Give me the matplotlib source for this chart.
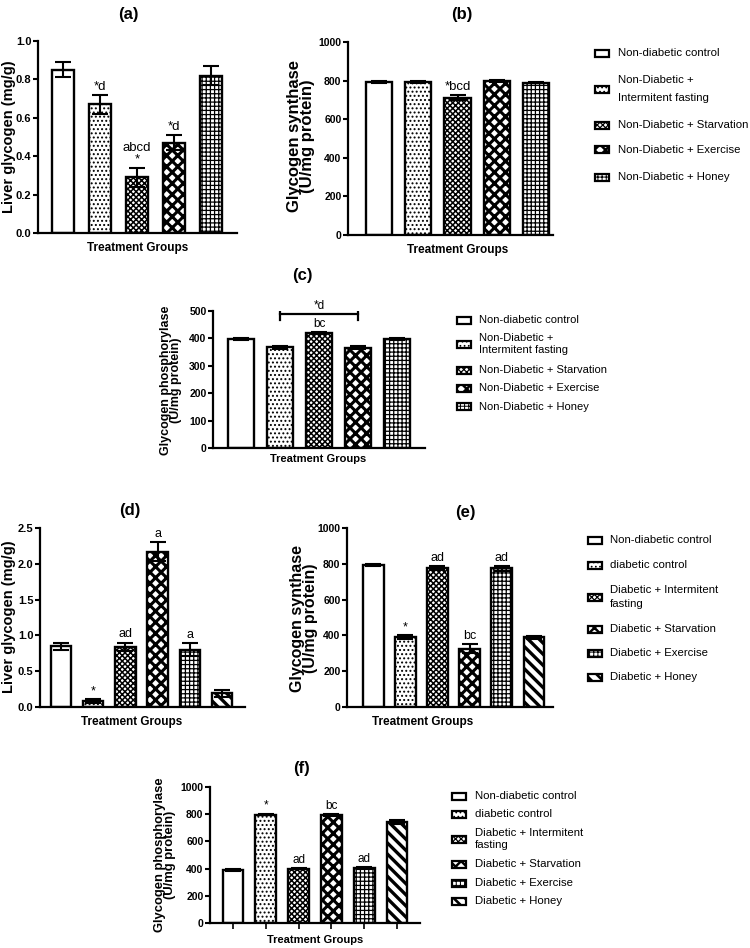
import matplotlib
matplotlib.use('Agg')
import matplotlib.pyplot as plt
from matplotlib.patches import Rectangle
import numpy as np

W, H = 750, 948
fig = plt.figure(figsize=(7.5, 9.48), dpi=100)
plt.rcParams['hatch.linewidth'] = 1.0

FAM = ['Liberation Sans', 'DejaVu Sans']

# ---------------- data ----------------
groups_nd = ["Non-diabetic control", "Non-Diabetic +\nIntermitent fasting",
             "Non-Diabetic + Starvation", "Non-Diabetic + Exercise",
             "Non-Diabetic + Honey"]
groups_d = ["Non-diabetic control", "diabetic control",
            "Diabetic + Intermitent\nfasting", "Diabetic + Starvation",
            "Diabetic + Exercise", "Diabetic + Honey"]

a_mean = [0.85, 0.67, 0.29, 0.47, 0.82]
a_err = [0.04, 0.05, 0.05, 0.04, 0.05]
a_marks = ["", "*d", "abcd\n*", "*d", ""]

b_mean = [795, 795, 712, 797, 790]
b_err = [5, 5, 12, 4, 5]
b_marks = ["", "", "*bcd", "", ""]

c_mean = [398, 367, 420, 366, 398]
c_err = [3, 5, 4, 5, 3]
c_marks = ["", "", "bc", "", ""]
c_bracket_mark = "*d"

d_mean = [0.85, 0.08, 0.84, 2.17, 0.80, 0.19]
d_err = [0.05, 0.03, 0.06, 0.13, 0.09, 0.05]
d_marks = ["", "*", "ad", "a", "a", ""]

e_mean = [795, 390, 775, 325, 775, 390]
e_err = [5, 10, 10, 25, 15, 8]
e_marks = ["", "*", "ad", "bc", "ad", ""]

f_mean = [390, 797, 400, 795, 405, 740]
f_err = [8, 5, 5, 8, 8, 15]
f_marks = ["", "*", "ad", "bc", "ad", ""]

hatch_nd = [None, '....', 'xxxxxx', 'xxx', '++++']
hatch_d = [None, '....', 'xxxxxx', 'xxx', '++++', '\\\\\\']


def fx(x):
    return x / W


def fy(y):
    return 1 - y / H


def set_hlw(p, lw):
    if hasattr(p, 'set_hatch_linewidth'):
        p.set_hatch_linewidth(lw)


def hlw_for(h):
    if h is None:
        return 1.0
    if '\\' in h:
        return 2.4
    if h == 'xxx':
        return 2.2
    if h == 'xxxxxx':
        return 1.1
    return 0.9


def panel(box, mean, err, marks, hatches, xlim, ylim, yticks, width,
          ticksize, mark_size, xticks=False, tickfmt=None):
    l, r, t, b = box
    ax = fig.add_axes([fx(l), fy(b), (r - l) / W, (b - t) / H])
    x = np.arange(len(mean))
    for i in range(len(mean)):
        bar = ax.bar(x[i], mean[i], width, color='white', edgecolor='black',
                     linewidth=1.7, hatch=hatches[i], zorder=2)
        for p in bar.patches:
            set_hlw(p, hlw_for(hatches[i]))
    ax.errorbar(x, mean, yerr=err, fmt='none', ecolor='black', elinewidth=1.5,
                capsize=5.5, capthick=1.5, zorder=3)
    for i, m in enumerate(marks):
        if m:
            ax.annotate(m, (x[i], mean[i] + err[i]), xytext=(0, 1.5),
                        textcoords='offset points', ha='center', va='bottom',
                        fontsize=mark_size, family=FAM, linespacing=0.95)
    ax.set_xlim(*xlim)
    ax.set_ylim(*ylim)
    ax.set_yticks(yticks)
    if tickfmt:
        ax.set_yticklabels([tickfmt.format(v) for v in yticks])
    for s in ['top', 'right']:
        ax.spines[s].set_visible(False)
    for s in ['left', 'bottom']:
        ax.spines[s].set_linewidth(1.6)
    ax.tick_params(axis='y', direction='out', length=3.5, width=1.5, pad=1.2)
    if xticks:
        ax.set_xticks(x)
        ax.set_xticklabels([])
        ax.tick_params(axis='x', direction='out', length=4, width=1.2)
    else:
        ax.set_xticks([])
    for lab in ax.get_yticklabels():
        lab.set_fontfamily(FAM)
        lab.set_fontweight('bold')
        lab.set_fontsize(ticksize)
    ax.patch.set_alpha(0)
    return ax


def legend(items, hatches, px, tx, ys, size, ls=1.05, pw=14, ph=7):
    for lab, h, y in zip(items, hatches, ys):
        r = Rectangle((fx(px), fy(y) - ph / 2 / H), pw / W, ph / H,
                      transform=fig.transFigure, facecolor='white',
                      edgecolor='black', linewidth=1.6, hatch=h)
        set_hlw(r, hlw_for(h) * 0.8)
        fig.add_artist(r)
        fig.text(fx(tx), fy(y), lab, ha='left', va='center', fontsize=size,
                 family=FAM, linespacing=ls)


def ftext(x, y, s, size, weight='bold', rot=0, ls=1.0):
    fig.text(fx(x), fy(y), s, ha='center', va='center', fontsize=size,
             family=FAM, fontweight=weight, rotation=rot, linespacing=ls)


# ---------------- panel (a) ----------------
panel((38, 237, 41, 233), a_mean, a_err, a_marks, hatch_nd,
      (-0.68, 4.7), (0, 1.0), np.arange(0, 1.01, 0.2), 0.6,
      8, 9.5, tickfmt='{:.1f}')
ftext(128, 14, '(a)', 12)
ftext(9, 137, 'Liver glycogen (mg/g)', 10.5, rot=90)
ftext(138, 248, 'Treatment Groups', 8.5)

# ---------------- panel (b) ----------------
panel((348, 553, 42, 235), b_mean, b_err, b_marks, hatch_nd,
      (-0.79, 4.43), (0, 1000), np.arange(0, 1001, 200), 0.67,
      7.5, 9.5)
ftext(462, 15, '(b)', 12)
ftext(301, 136, 'Glycogen synthase\n(U/mg protein)', 12, rot=90, ls=0.85)
ftext(458, 250, 'Treatment Groups', 8.5)
legend(groups_nd, hatch_nd, 595, 618, [53, 89, 125, 150, 177], 8.2, ls=1.9)

# ---------------- panel (c) ----------------
axc = panel((213, 425, 311, 448), c_mean, c_err, c_marks, hatch_nd,
            (-0.72, 4.72), (0, 500), np.arange(0, 501, 100), 0.65,
            7.5, 8.5)
axc.plot([1, 3], [489, 489], color='black', lw=1.6)
axc.plot([1, 1], [467, 511], color='black', lw=1.6)
axc.plot([3, 3], [467, 511], color='black', lw=1.6)
axc.text(2, 497, c_bracket_mark, ha='center', va='bottom', fontsize=8.5,
         family=FAM)
ftext(302, 275, '(c)', 12)
ftext(171, 380, 'Glycogen phosphorylase\n(U/mg protein)', 9, rot=90, ls=0.85)
ftext(318, 459, 'Treatment Groups', 8)
legend(groups_nd, hatch_nd, 457, 479, [320, 344, 370, 388, 407], 8, ls=1.15)

# ---------------- panel (d) ----------------
panel((40, 245, 528, 707), d_mean, d_err, d_marks, hatch_d,
      (-0.65, 5.71), (0, 2.5), np.arange(0, 2.51, 0.5), 0.63,
      8, 9)
ftext(130, 511, '(d)', 12)
ftext(9, 617, 'Liver glycogen (mg/g)', 10.5, rot=90)
ftext(132, 722, 'Treatment Groups', 8.5)

# ---------------- panel (e) ----------------
panel((347, 553, 528, 707), e_mean, e_err, e_marks, hatch_d,
      (-0.81, 5.59), (0, 1000), np.arange(0, 1001, 200), 0.65,
      7.5, 9)
ftext(465, 513, '(e)', 12)
ftext(304, 618, 'Glycogen synthase\n(U/mg protein)', 11.5, rot=90, ls=0.85)
ftext(423, 722, 'Treatment Groups', 8.5)
legend(groups_d, hatch_d, 588, 610, [540, 565, 597, 629, 653, 677], 8.2, ls=1.5)

# ---------------- panel (f) ----------------
panel((210, 420, 787, 923), f_mean, f_err, f_marks, hatch_d,
      (-0.70, 5.70), (0, 1000), np.arange(0, 1001, 200), 0.63,
      7.5, 8.5, xticks=True)
ftext(302, 768, '(f)', 12)
ftext(165, 855, 'Glycogen phosphorylase\n(U/mg protein)', 9.4, rot=90, ls=0.88)
ftext(315, 940, 'Treatment Groups', 8)
legend(groups_d, hatch_d, 452, 475, [796, 814, 839, 864, 883, 901], 8.2, ls=1.2)

fig.savefig('out.png', dpi=100)
